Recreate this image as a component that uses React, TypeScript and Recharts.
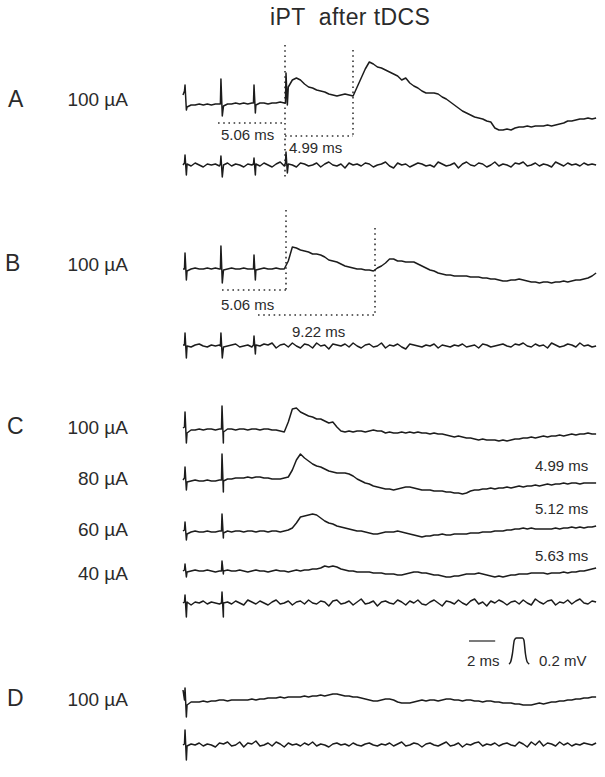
import React from 'react';
import { ComposedChart, Line, XAxis, YAxis, ReferenceLine } from 'recharts';

// figure geometry
const W = 605;
const H = 777;
const T0_PX = 183; // where t = 0 sits
const PX_PER_MS = 13.5;
const DT = 0.3; // ms between samples

// stimulus times (ms)
const stimsAB = [0.15, 2.81, 5.26, 7.63];
const stimsB = [0.15, 2.81, 5.26];
const stimsC = [0.15, 2.89];
const stimsD = [0.15];

// traces, amplitude in display units (26 units = 0.2 mV), one sample every DT
const traceA = [
  10, -2, 0, 0, 1, 0, 1, 0, 1, 1,
  -1, 1, 1, 2, 1, 2, 1, 2, 0, 2, 2, 1, 2, 2, 3, 2,
  18, 25, 27, 25, 21, 18, 17, 15, 14, 13, 11, 10, 9, 10, 11, 10, 9,
  18, 27, 36, 43, 41, 38, 37, 35, 33, 31, 29,
  25, 27, 22, 19, 17, 14, 12, 12, 12, 11,
  8, 6, 3, 0, -3, -6, -8, -10, -12, -13, -14, -16, -17,
  -23, -25, -25, -24, -25, -23, -22, -22, -21, -22, -21, -21, -21,
  -20, -21, -20, -19, -18, -16, -16, -15, -14, -14, -13, -14, -13,
];
const artA = [[14, 20, -5], [1, 26, -11], [2, 20, -8], [2, 32, 0]];

const noiseA = [
  0, 1, -1, 2, 0, -2, 1, 0, 1, -1, 0, 2, -1, 1, 0, -2, 1, 0, 1, -1,
  2, 0, -2, 1, 3, -1, 1, 0, -2, 2, 1, -1, 0, 2, -2, 1, 3, 0, -1, 1,
  -3, 2, 0, 1, -1, 2, 1, -2, 0, 1, 3, -1, -3, 2, 0, 1, -2, 0, 2, 1,
  -1, 0, -2, 3, 1, -1, 0, 2, -3, 1, 3, 0, -1, 2, 1, -2, 0, 3, -1, 1,
  0, -2, 2, 1, 3, -1, 0, 2, -1, 1, 0, -2, 3, 1, -1, 2, 0, 1, -1, 2,
  0, 1, 0,
];
const artAn = [[2, 10, -10], [1, 9, -12], [1, 7, -10], [2, 13, -8]];

const traceB = [
  0, -2, 0, 1, 0, 0, 1, 0, 1, 0,
  -1, 0, 1, 0, 0, 1, 0, 0,
  -1, 0, 1, 0, 0, 1, 0, 0,
  8, 22, 21, 19, 18, 17, 15, 15, 14, 12, 9, 8, 7, 5, 3, 2, 1, 0, 0, -1, -1, -2,
  1, 3, 6, 10, 10, 8, 8, 7, 7, 7, 5, 3, 1, -1, -2,
  -4, -5, -6, -6, -7, -7, -7, -7, -8, -8, -8, -9, -9, -10, -10, -11,
  -12, -12, -11, -11, -10, -11, -12, -13, -13, -14, -13, -13, -14, -13, -13, -12,
  -13, -12, -11, -11, -10, -9, -7, -4,
];
const artB = [[0, 16, -11], [0, 23, -14], [0, 14, -11]];

const noiseB = [
  1, 0, -1, 1, 2, 0, -1, 1, 0, 1, -1, 0, 1, 2, -1, 0, 1, -1, 1, 0,
  2, 1, 3, -2, 1, 2, -1, 3, 0, -2, 2, 1, -2, 3, 0, 1, -3, 2, 1, 0,
  2, -1, 3, 0, -2, 1, 2, -1, 0, 3, -2, 1, 0, 2, -1, -3, 2, 1, 0, -1,
  1, 0, 2, -2, 1, 0, -1, 1, 0, 2, -1, 0, 1, -2, 2, 1, -1, 0, 1, 2,
  0, -1, 2, 1, 3, 0, -1, 2, 0, 1, -2, 3, 1, -1, 0, 2, 1, -1, 3, 0,
  1, -1, 0,
];
const artBn = [[1, 13, -12], [0, 13, -12], [1, 10, -8]];

const traceC100 = [
  2, -3, 0, 0, 1, 0, 1, 1, 0, 1,
  -2, 1, 1, 0, 1, 1, 0, 1, 1, 0, 1, 1, 0, 0, -1, -2,
  8, 21, 22, 18, 16, 14, 13, 11, 11, 9, 7, 8, 3,
  -1, -2, -1, -2, -1, -1, -2, -1, 0, -1, -1, -3, -2, -3, -3, -2, -3, -2, -3, -2, -3, -3, -4, -3,
  -4, -4, -5, -6, -7, -6, -7, -8, -8, -9, -10, -9, -10, -10, -10, -11, -10, -11, -10, -9, -9,
  -8, -8, -7, -8, -7, -6, -7, -6, -6, -5, -6, -5, -4, -5, -4, -4, -3, -4, -4,
];
const artC100 = [[3, 18, -13], [1, 24, -13]];

const traceC80 = [
  0, -2, -1, 0, -1, -1, 0, -1, -1, 0,
  -1, 1, 1, 2, 2, 2, 3, 2, 3, 3, 2, 2, 1, 1, 1, 2, 3,
  10, 20, 26, 22, 19, 16, 14, 13, 11, 9, 8, 7, 7, 7, 6, 4, 1,
  -1, -3, -4, -6, -7, -8, -9, -9, -10, -9, -8, -7, -7, -8, -9, -10, -10, -10, -11, -11, -11, -12, -12, -13, -13, -14, -13,
  -11, -10, -10, -9, -9, -8, -9, -8, -8, -7, -8, -7, -6, -7, -6, -6, -5, -6, -5, -4, -5, -4, -4, -3, -4, -3, -3, -4, -3, -3, -3, -3,
];
const artC80 = [[2, 13, -10], [0, 26, -12]];

const traceC60 = [
  1, -2, 0, 1, 0, 0, 1, 0, 0, 1,
  -1, 1, 0, 1, 1, 0, 1, 1, 0, 1, 1, 0, 1, 1, 0, 1,
  2, 4, 9, 15, 16, 17, 18, 17, 14, 11, 9, 8, 6, 5, 4, 3, 2, 1, 1, 0,
  -1, -2, -2, -1, 0, 0, 0, 1, 0, -1, -2, -3, -4, -5, -4, -4, -3, -3, -2, -3, -3, -2, -2, -2, -2, -1, -1,
  -1, 0, 0, 0, 1, 1, 1, 2, 2, 3, 3, 4, 3, 4, 3, 3, 3, 3, 3, 4, 3, 4, 4, 5, 4, 5, 4, 5, 5, 6,
];
const artC60 = [[2, 10, -8], [1, 18, -6]];

const traceC40 = [
  0, -1, 0, 1, 0, 0, 1, 0, -1, 0,
  0, 1, 0, 0, 1, 0, -1, 0, 1, 0, 0, -1, 0, 1, 0, 0, -1,
  0, 1, 0, 1, 1, 2, 2, 3, 5, 4, 5, 4, 2, 1, 0, 0, -1, -1, -1, -1, -2, -2, -2,
  -3, -3, -3, -4, -4, -3, -2, -1, -1, -2, -2, -3, -4, -4, -5, -6, -6, -5, -5, -4, -3, -3, -3,
  -2, -3, -4, -5, -6, -5, -6, -5, -4, -4, -3, -3, -3, -2, -2, -2, -2, -3, -2, -2, -2, -1, -2, -1, -1, 0, 0, 1, 2, 3,
];
const artC40 = [[1, 7, -6], [0, 10, -3]];

const noiseC = [
  0, 1, -2, 1, 0, 2, -1, 1, 0, -1, 0, 1, -1, 2, 0, -2, 3, 1, -1, 2,
  0, -2, 1, 3, -1, 0, 2, -2, 1, 2, -1, 3, 0, -1, 2, 1, -3, 2, 3, -1,
  0, 2, -2, 1, 4, -1, 0, 2, -3, 1, 2, 0, -1, 3, 1, -2, 2, 0, 3, -1,
  -2, 1, 3, 0, -3, 2, 1, -1, 3, 0, -2, 2, 4, -1, 1, -3, 2, 0, 3, 1,
  -2, 1, 2, -1, 3, 0, -2, 4, 1, -1, 2, 3, -2, 1, 0, 3, -1, 2, 4, 0,
  -1, 2, 1,
];
const artCn = [[1, 8, -14], [0, 11, -14]];

const traceD = [
  12, -3, 0, 0, 0, 1, 0, 1, 1, 2, 2, 1, 2, 2, 2, 2, 2, 3, 2, 3, 3, 4, 4, 4, 5, 4, 5, 5, 5, 5,
  6, 5, 6, 6, 7, 6, 7, 8, 8, 7, 6, 6, 5, 5, 4, 3, 2, 1, 1, 2, 3, 3, 2, 0, -1, -1, -1, 0, 1, 2, 1,
  2, 2, 1, 2, 3, 3, 2, 2, 1, 2, 2, 1, 1, 0, 1, 1, 0, 0, -1, -1, -1, -2, -2, -3, -3, -3, -2, -1, -2, -1,
  0, 0, 1, 1, 2, 2, 3, 3, 4, 4, 5, 5,
];
const artD = [[2, 14, -15]];

const noiseD = [
  0, -1, 1, 0, 2, -1, 1, 0, -2, 2, 1, 3, -1, 0, 3, -2, 2, 1, 4, -1,
  0, 2, -1, 3, 1, -2, 2, 0, 1, -1, 2, 0, 3, -1, 1, 0, -2, 1, 2, 0,
  1, -1, 2, 0, -1, 1, 2, 0, -1, 1, 0, 2, -1, 1, 3, -1, 0, 2, 1, -2,
  1, 2, 0, -1, 1, 3, -1, 0, 2, -2, 1, 0, 2, 3, -1, 1, 0, 2, -1, 1,
  2, 0, -1, 3, 1, -2, 3, 0, 4, -1, 2, 1, -1, 3, 0, 2, -1, 1, 0, 2,
  1, 0, 2,
];
const artDn = [[1, 15, -15]];

// calibration pulse (display units vs ms)
const calT = [0, 0.12, 0.25, 0.4, 0.55, 1.0, 1.1, 1.22, 1.35, 1.5];
const calAmp = [0, 2, 10, 24, 26, 26, 24, 10, 2, 0];
const SCALE_MS = 2;

type Pt = { t: number; y: number };

function buildTrace(values: number[], stims: number[], arts: number[][], base: number): Pt[] {
  const pts: Pt[] = values.map((v, i) => ({ t: i * DT, y: base - v }));
  stims.forEach((s, k) => {
    const [pre, up, down] = arts[k];
    pts.push({ t: s - 0.04, y: base - pre }, { t: s, y: base - up }, { t: s + 0.1, y: base - down });
  });
  return pts.sort((a, b) => a.t - b.t);
}

const px2t = (x: number) => (x - T0_PX) / PX_PER_MS;

const traces = [
  buildTrace(traceA, stimsAB, artA, 105),
  buildTrace(noiseA, stimsAB, artAn, 165),
  buildTrace(traceB, stimsB, artB, 269),
  buildTrace(noiseB, stimsB, artBn, 346),
  buildTrace(traceC100, stimsC, artC100, 430),
  buildTrace(traceC80, stimsC, artC80, 480),
  buildTrace(traceC60, stimsC, artC60, 532),
  buildTrace(traceC40, stimsC, artC40, 571),
  buildTrace(noiseC, stimsC, artCn, 603),
  buildTrace(traceD, stimsD, artD, 702),
  buildTrace(noiseD, stimsD, artDn, 745),
];

const calData = calT.map((t, i) => ({ t: px2t(509) + t, y: 664 - calAmp[i] }));

const FONT = '"Liberation Sans", Arial, sans-serif';
const INK = '#2b2b2b';

function Txt({ x, y, size, children, right, spacing }: { x: number; y: number; size: number; children: React.ReactNode; right?: boolean; spacing?: number }) {
  return (
    <div
      style={{
        position: 'absolute',
        left: x,
        top: y,
        fontFamily: FONT,
        fontSize: size,
        lineHeight: 1,
        color: INK,
        whiteSpace: 'pre',
        letterSpacing: spacing ?? 0,
        transform: right ? 'translate(-100%, -50%)' : 'translate(0, -50%)',
      }}
    >
      {children}
    </div>
  );
}

const dotted = { stroke: '#333', strokeWidth: 1.6, strokeDasharray: '1.6 3.6' };

export default function App() {
  return (
    <div style={{ position: 'absolute', left: 0, top: 0, width: W, height: H, background: '#fff' }}>
      <ComposedChart width={W} height={H} margin={{ top: 0, right: 0, bottom: 0, left: 0 }}>
        <XAxis type="number" dataKey="t" domain={[px2t(0), px2t(W)]} hide allowDataOverflow />
        <YAxis type="number" domain={[0, H]} reversed hide allowDataOverflow />

        {/* latency markers, panel A */}
        <ReferenceLine segment={[{ x: px2t(285), y: 45 }, { x: px2t(285), y: 180 }]} {...dotted} ifOverflow="visible" />
        <ReferenceLine segment={[{ x: px2t(353), y: 50 }, { x: px2t(353), y: 136 }]} {...dotted} ifOverflow="visible" />
        <ReferenceLine segment={[{ x: px2t(218), y: 123 }, { x: px2t(285), y: 123 }]} {...dotted} ifOverflow="visible" />
        <ReferenceLine segment={[{ x: px2t(285), y: 136 }, { x: px2t(353), y: 136 }]} {...dotted} ifOverflow="visible" />
        {/* panel B */}
        <ReferenceLine segment={[{ x: px2t(286), y: 210 }, { x: px2t(286), y: 290 }]} {...dotted} ifOverflow="visible" />
        <ReferenceLine segment={[{ x: px2t(375), y: 228 }, { x: px2t(375), y: 315 }]} {...dotted} ifOverflow="visible" />
        <ReferenceLine segment={[{ x: px2t(222), y: 290 }, { x: px2t(286), y: 290 }]} {...dotted} ifOverflow="visible" />
        <ReferenceLine segment={[{ x: px2t(258), y: 315 }, { x: px2t(375), y: 315 }]} {...dotted} ifOverflow="visible" />

        {/* 2 ms scale bar */}
        <ReferenceLine
          segment={[{ x: px2t(469), y: 641 }, { x: px2t(469) + SCALE_MS * 0.97, y: 641 }]}
          stroke="#333"
          strokeWidth={1.3}
          ifOverflow="visible"
        />

        {traces.map((d, i) => (
          <Line
            key={i}
            data={d}
            dataKey="y"
            type="linear"
            dot={false}
            activeDot={false}
            legendType="none"
            stroke="#1c1c1c"
            strokeWidth={1.5}
            strokeLinejoin="round"
            isAnimationActive={false}
          />
        ))}
        <Line
          data={calData}
          dataKey="y"
          type="monotone"
          dot={false}
          activeDot={false}
          legendType="none"
          stroke="#1c1c1c"
          strokeWidth={1.5}
          isAnimationActive={false}
        />
      </ComposedChart>

      <Txt x={270} y={17} size={23} spacing={0.4}>iPT  after tDCS</Txt>

      <Txt x={8} y={99} size={23}>A</Txt>
      <Txt x={5} y={263} size={23}>B</Txt>
      <Txt x={7} y={426} size={23}>C</Txt>
      <Txt x={7} y={698} size={23}>D</Txt>

      <Txt x={128} y={99} size={19} right>100 µA</Txt>
      <Txt x={128} y={264} size={19} right>100 µA</Txt>
      <Txt x={128} y={427} size={19} right>100 µA</Txt>
      <Txt x={128} y={478} size={19} right>80 µA</Txt>
      <Txt x={128} y={529} size={19} right>60 µA</Txt>
      <Txt x={128} y={573} size={19} right>40 µA</Txt>
      <Txt x={128} y={699} size={19} right>100 µA</Txt>

      <Txt x={221} y={134} size={15}>5.06 ms</Txt>
      <Txt x={289} y={147} size={15}>4.99 ms</Txt>
      <Txt x={221} y={304} size={15}>5.06 ms</Txt>
      <Txt x={292} y={331} size={15}>9.22 ms</Txt>
      <Txt x={535} y={465} size={15}>4.99 ms</Txt>
      <Txt x={535} y={508} size={15}>5.12 ms</Txt>
      <Txt x={535} y={555} size={15}>5.63 ms</Txt>

      <Txt x={467} y={660} size={15}>2 ms</Txt>
      <Txt x={539} y={660} size={15}>0.2 mV</Txt>
    </div>
  );
}
